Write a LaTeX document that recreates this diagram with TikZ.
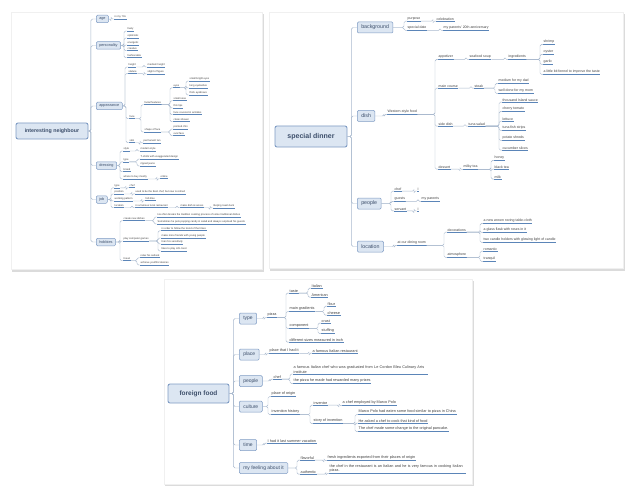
\documentclass[tikz,border=0pt]{standalone}
\usepackage{fontspec}
\setmainfont{Liberation Sans}
\usetikzlibrary{calc}

\definecolor{topicf}{HTML}{DCE6F2}
\definecolor{topicb}{HTML}{7F9CC4}
\definecolor{topict}{HTML}{3D4F6B}
\definecolor{ulc}{HTML}{5B85B8}
\definecolor{linkc}{HTML}{A9B9CE}
\definecolor{leaft}{HTML}{404040}

\begin{document}
\begin{tikzpicture}[
  x=1pt, y=-1pt,
  conn/.style={draw=linkc, line width=0.45pt, rounded corners=1.5pt},
  uedge/.style={draw=ulc, line width=0.55pt},
  uline/.style={append after command={(\tikzlastnode.south west) edge[uedge] (\tikzlastnode.south east)}},
  leaf/.style={anchor=west, text=leaft, inner xsep=0.5pt, inner ysep=0.6pt, align=left, uline},
  lA/.style={leaf, font=\fontsize{2.6}{3.1}\selectfont},
  lB/.style={leaf, font=\fontsize{3.5}{4.3}\selectfont},
  lC/.style={leaf, font=\fontsize{3.8}{4.6}\selectfont},
  topic/.style={draw=topicb, fill=topicf, text=topict, rounded corners=1.2pt, line width=0.5pt, anchor=west, inner ysep=0pt},
  topA/.style={topic, font=\fontsize{3.8}{4.5}\selectfont, minimum height=7.5pt, inner xsep=3pt},
  topB/.style={topic, font=\fontsize{5.3}{6}\selectfont, minimum height=11pt, inner xsep=4pt},
  topC/.style={topic, font=\fontsize{5}{5.8}\selectfont, minimum height=11pt, inner xsep=4pt},
  root/.style={draw=topicb, fill=topicf, text=topict, rounded corners=2pt, line width=0.9pt, inner sep=0pt},
  panel/.style={fill=white, draw=gray!12, line width=0.4pt},
  shade/.style={fill=gray!28},
]
\useasboundingbox (0,0) rectangle (634,492);

% cards
\fill[shade] (12,14) rectangle (263.5,271.5);
\fill[shade] (270,14) rectangle (624.5,270.5);
\fill[shade] (165,281) rectangle (473.5,486);
\path[panel] (11,12) rectangle (262,269);
\path[panel] (269,12) rectangle (623,268);
\path[panel] (164,279) rectangle (472,484);

%% interesting neighbour
\node[root, minimum width=72pt, minimum height=16pt, font=\fontsize{5.3}{6}\selectfont\bfseries] (nb) at (52,131) {interesting neighbour};
\node[topA] (age) at (96,19) {age};
\node[topA] (pers) at (96,45.5) {personality};
\node[topA] (look) at (96,106) {appearance};
\node[topA] (dress) at (96,165.5) {dressing};
\node[topA] (job) at (96,199.5) {job};
\node[topA] (hob) at (96,242) {hobbies};

\node[lA] (age1) at (114,17) {in my 70s};
\node[lA] (per1) at (127,29) {lively};
\node[lA] (per2) at (127,36) {optimistic};
\node[lA] (per3) at (127,43) {energetic};
\node[lA] (per4) at (127,49) {creative};
\node[lA] (per5) at (127,56) {fashionable};
\node[lA] (hei) at (128,65) {height};
\node[lA] (hei1) at (147,65) {medium height};
\node[lA] (sta) at (128,72) {stature};
\node[lA] (sta1) at (147,72) {slight of figure};
\node[lA] (face) at (129,117) {face};
\node[lA] (feat) at (144,103) {facial features};
\node[lA] (eyes) at (173,86) {eyes};
\node[lA] (eye1) at (189,79) {small bright eyes};
\node[lA] (eye2) at (189,86) {long eyelashes};
\node[lA] (eye3) at (189,93) {thick eyebrows};
\node[lA] (nose) at (173,99) {small nose};
\node[lA] (lips) at (173,106) {thin lips};
\node[lA] (wrin) at (173,113) {face covered in wrinkles};
\node[lA] (shav) at (173,120) {clean shaven};
\node[lA] (shape) at (144,130) {shape of face};
\node[lA] (chin) at (173,127) {pointed chin};
\node[lA] (oval) at (173,134) {oval face};
\node[lA] (skin) at (129,141) {skin};
\node[lA] (skin1) at (143,141) {permanent tan};
\node[lA] (sty) at (123,149) {style};
\node[lA] (sty1) at (140,149) {modern style};
\node[lA] (typ) at (123,160) {type};
\node[lA] (typ1) at (140,157) {T-shirts with exaggerated design};
\node[lA] (typ2) at (140,164) {ripped jeans};
\node[lA] (brand) at (123,170) {brand};
\node[lA] (buy) at (123,177) {where to buy mostly};
\node[lA] (buy1) at (160,177) {online};
\node[lA] (jt) at (114,186) {type};
\node[lA] (jt1) at (129,186) {chef};
\node[lA] (jp) at (114,192) {position};
\node[lA] (jp1) at (135,192) {used to be the Best chef, but now is retired};
\node[lA] (jw) at (114,199) {working pattern};
\node[lA] (jw1) at (145,199) {full-time};
\node[lA] (jl) at (114,206) {location};
\node[lA] (jl1) at (135,206) {in a famous local restaurant};
\node[lA] (jl2) at (180,206) {make dish \& serves};
\node[lA] (jl3) at (213,206) {Beijing roast duck};
\node[lA] (cre) at (123,219) {create new dishes};
\node[lA] (cre1) at (157,215) {He often breaks the tradition cooking process of some traditional dishes};
\node[lA] (cre2) at (157,222) {Sometimes he puts popping candy in salad and always surprised his guests};
\node[lA] (game) at (123,239) {play computer games};
\node[lA] (game1) at (161,229) {in order to follow the trend of the times};
\node[lA] (game2) at (161,236) {make more friends with young people};
\node[lA] (game3) at (161,242) {train his sensitivity};
\node[lA] (game4) at (161,249) {likes to play LOL best};
\node[lA] (trav) at (123,259) {travel};
\node[lA] (trav1) at (140,256) {relax his outlook};
\node[lA] (trav2) at (140,263) {achieve youthful desires};

%% special dinner
\node[root, minimum width=72pt, minimum height=21pt, font=\fontsize{7}{8}\selectfont\bfseries] (sd) at (311,136.5) {special dinner};
\node[topB] (bg) at (357,27.5) {background};
\node[topB] (dish) at (357,116) {dish};
\node[topB] (ppl) at (357,203.5) {people};
\node[topB] (loc) at (357,246.5) {location};

\node[lB] (pur) at (407,19) {purpose};
\node[lB] (pur1) at (436,19) {celebration};
\node[lB] (date) at (407,28) {special date};
\node[lB] (date1) at (443,28) {my parents' 20th anniversary};
\node[lB] (west) at (387,112) {Western-style food};
\node[lB] (app) at (438,57) {appetizer};
\node[lB] (soup) at (469,57) {seafood soup};
\node[lB] (ingr) at (508,57) {ingredients};
\node[lB] (ing1) at (543,42) {shrimp};
\node[lB] (ing2) at (543,52) {oyster};
\node[lB] (ing3) at (543,62) {garlic};
\node[lB] (ing4) at (543,72) {a little bit fennel to improve the taste};
\node[lB] (main) at (438,86) {main course};
\node[lB] (steak) at (474,86) {steak};
\node[lB] (stk1) at (498,81) {medium for my dad};
\node[lB] (stk2) at (498,91) {well done for my mom};
\node[lB] (side) at (438,124) {side dish};
\node[lB] (tuna) at (468,124) {tuna salad};
\node[lB] (sal1) at (502,100) {thousand Island sauce};
\node[lB] (sal2) at (502,109) {cherry tomato};
\node[lB] (sal3) at (502,119) {lettuce};
\node[lB] (sal4) at (502,128) {tuna fish strips};
\node[lB] (sal5) at (502,138) {potato shreds};
\node[lB] (sal6) at (502,148) {cucumber slices};
\node[lB] (des) at (438,167) {dessert};
\node[lB] (tea) at (463,167) {milky tea};
\node[lB] (tea1) at (494,158) {honey};
\node[lB] (tea2) at (494,167) {black tea};
\node[lB] (tea3) at (494,177) {milk};
\node[lB] (chef) at (394,189) {chef};
\node[lB] (chef1) at (417,189) {I};
\node[lB] (gst) at (394,199) {guests};
\node[lB] (gst1) at (421,199) {my parents};
\node[lB] (srv) at (394,209) {servant};
\node[lB] (srv1) at (417,209) {I};
\node[lB] (room) at (397,243) {at our dining room};
\node[lB] (deco) at (447,230) {decorations};
\node[lB] (deco1) at (483,221) {a new woven roving table-cloth};
\node[lB] (deco2) at (483,230) {a glass flask with roses in it};
\node[lB] (deco3) at (483,240) {two candle holders with glowing light of candle};
\node[lB] (atm) at (447,255) {atmosphere};
\node[lB] (atm1) at (483,249) {romantic};
\node[lB] (atm2) at (483,259) {tranquil};

%% foreign food
\node[root, minimum width=61pt, minimum height=19pt, font=\fontsize{6.5}{7.5}\selectfont\bfseries] (ff) at (198.5,393.5) {foreign food};
\node[topC] (type) at (239,318.5) {type};
\node[topC] (place) at (239,354.5) {place};
\node[topC] (ppl3) at (239,381) {people};
\node[topC] (cult) at (239,406.5) {culture};
\node[topC] (time) at (239,445) {time};
\node[topC] (feel) at (239,468) {my feeling about it};

\node[lC] (pizza) at (267,315) {pizza};
\node[lC] (taste) at (289,291) {taste};
\node[lC] (ita) at (311,286) {Italian};
\node[lC] (ame) at (311,295) {American};
\node[lC] (grad) at (289,309) {main gradients};
\node[lC] (flour) at (327,304) {flour};
\node[lC] (chee) at (327,313) {cheese};
\node[lC] (comp) at (289,326) {component};
\node[lC] (crust) at (321,321) {crust};
\node[lC] (stuf) at (321,331) {stuffing};
\node[lC] (size) at (289,340) {different sizes measured in inch};
\node[lC] (had) at (269,351) {place that I had it};
\node[lC] (rest) at (312,351) {a famous Italian restaurant};
\node[lC] (chf) at (273,377) {chef};
\node[lC, text width=134pt] (chf1) at (293,369.5) {a famous Italian chef who was graduated from Le Cordon Bleu Culinary Arts institute};
\node[lC] (chf2) at (293,381) {the pizza he made had rewarded many prizes};
\node[lC] (orig) at (271,394) {place of origin};
\node[lC] (hist) at (271,412) {invention history};
\node[lC] (inv) at (313,403) {inventor};
\node[lC] (inv1) at (342,403) {a chef employed by Marco Polo};
\node[lC] (story) at (313,421) {story of invention};
\node[lC] (sto1) at (358,412) {Marco Polo had eaten some food similar to pizza in China};
\node[lC] (sto2) at (358,421) {He asked a chef to cook that kind of food};
\node[lC] (sto3) at (358,429) {The chef made some change to the original pancake.};
\node[lC] (last) at (267,441) {I had it last summer vacation};
\node[lC] (flav) at (300,458) {flavorful};
\node[lC] (flav1) at (327,458) {fresh ingredients exported from their places of origin};
\node[lC] (auth) at (300,472) {authentic};
\node[lC, text width=136pt] (auth1) at (329,468.5) {the chef in the restaurant is an Italian and he is very famous in cooking Italian pizza.};

% main branches
\foreach \t in {age,pers,look,dress,job,hob} \draw[conn] (nb.east) -- ++(2.5,0) |- (\t.west);
\foreach \t in {bg,dish,ppl,loc} \draw[conn] (sd.east) -- ++(4,0) |- (\t.west);
\foreach \t in {type,place,ppl3,cult,time,feel} \draw[conn] (ff.east) -- ++(4,0) |- (\t.west);

% topic to first subtopics
\foreach \p/\c in {age/age1, pers/per1, pers/per2, pers/per3, pers/per4, pers/per5,
    look/hei, look/sta, look/face, look/skin, dress/sty, dress/typ, dress/brand, dress/buy,
    job/jt, job/jp, job/jw, job/jl, hob/cre, hob/game, hob/trav,
    bg/pur, bg/date, dish/west, ppl/chef, ppl/gst, ppl/srv, loc/room,
    type/pizza, place/had, ppl3/chf, cult/orig, cult/hist, time/last, feel/flav, feel/auth}
  \draw[conn] (\p.east) -- ($(\c.south west |- \p.east)+(-3,0)$) |- (\c.south west);

% deeper levels
\foreach \p/\c in {hei/hei1, sta/sta1, face/feat, face/shape, feat/eyes, eyes/eye1, eyes/eye2, eyes/eye3,
    feat/nose, feat/lips, feat/wrin, feat/shav, shape/chin, shape/oval, skin/skin1,
    sty/sty1, typ/typ1, typ/typ2, buy/buy1, jt/jt1, jp/jp1, jw/jw1, jl/jl1, jl1/jl2, jl2/jl3,
    cre/cre1, cre/cre2, game/game1, game/game2, game/game3, game/game4, trav/trav1, trav/trav2,
    pur/pur1, date/date1, west/app, west/main, west/side, west/des, app/soup, soup/ingr,
    ingr/ing1, ingr/ing2, ingr/ing3, ingr/ing4, main/steak, steak/stk1, steak/stk2,
    side/tuna, tuna/sal1, tuna/sal2, tuna/sal3, tuna/sal4, tuna/sal5, tuna/sal6,
    des/tea, tea/tea1, tea/tea2, tea/tea3, chef/chef1, gst/gst1, srv/srv1,
    room/deco, room/atm, deco/deco1, deco/deco2, deco/deco3, atm/atm1, atm/atm2,
    pizza/taste, pizza/grad, pizza/comp, pizza/size, taste/ita, taste/ame, grad/flour, grad/chee,
    comp/crust, comp/stuf, had/rest, chf/chf1, chf/chf2, hist/inv, hist/story, inv/inv1,
    story/sto1, story/sto2, story/sto3, flav/flav1, auth/auth1}
  \draw[conn] (\p.south east) -- ($(\c.south west |- \p.south east)+(-3,0)$) |- (\c.south west);
\end{tikzpicture}
\end{document}
